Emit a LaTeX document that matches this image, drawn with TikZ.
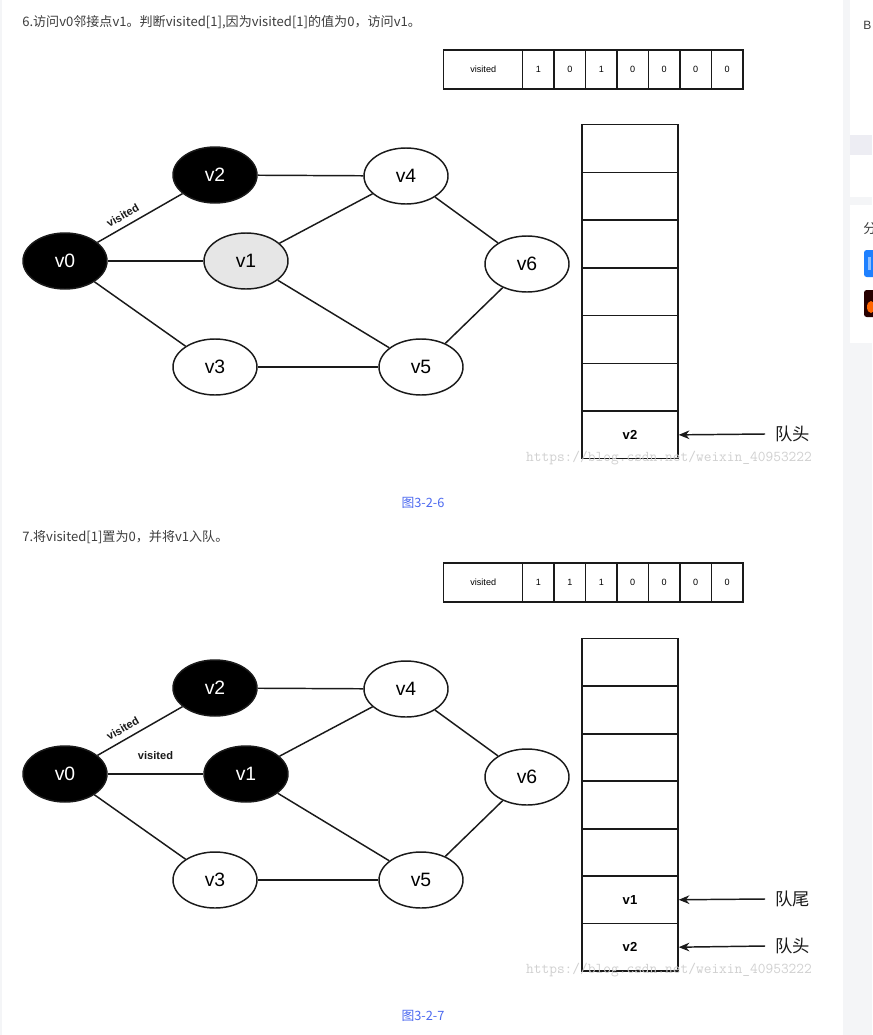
\documentclass[tikz,border=0pt]{standalone}
\usepackage{fontspec}
\setmainfont{Liberation Sans}
\newfontfamily\cjk{Noto Sans CJK SC}
\usetikzlibrary{arrows.meta,shapes.geometric}

\definecolor{txt}{HTML}{3D3D3D}
\definecolor{cap}{HTML}{4D6AF0}
\definecolor{wm}{HTML}{D0D0D0}
\definecolor{vlight}{HTML}{E6E6E6}
\definecolor{side}{HTML}{F4F5F7}
\definecolor{band}{HTML}{EDEDF3}
\definecolor{ink}{HTML}{1A1A1A}
\definecolor{iconblue}{HTML}{1E80FF}

\tikzset{
  vert/.style={ellipse, draw=ink, line width=1.1pt, minimum width=63pt, minimum height=42pt,
    inner sep=0pt, font=\fontsize{14.5}{16}\selectfont},
  blackv/.style={vert, fill=black, text=white},
  edge/.style={draw=ink, line width=1.1pt},
  lbl/.style={font=\bfseries\fontsize{8.3}{9}\selectfont, inner sep=1pt, text=ink},
  qcell/.style={rectangle, draw=ink, line width=1.1pt, minimum width=72pt, minimum height=35.8pt,
    inner sep=0pt, anchor=north, font=\bfseries\fontsize{9.8}{11}\selectfont},
  acell/.style={rectangle, draw=ink, line width=1.1pt, minimum width=23.6pt, minimum height=29.25pt,
    inner sep=0pt, anchor=west, font=\fontsize{6.8}{8}\selectfont},
  vcell/.style={acell, minimum width=59.25pt},
  qarrow/.style={draw=ink, line width=1.1pt, -{Stealth[length=8pt,width=6.5pt]}},
  qlabel/.style={anchor=west, inner sep=0pt, font=\cjk\fontsize{13}{15}\selectfont, text=ink},
  wmark/.style={font=\ttfamily\fontsize{11.25}{12}\selectfont, text=wm, inner sep=0pt},
  body/.style={anchor=west, inner sep=0pt, font=\cjk\fontsize{9.8}{11}\selectfont, text=txt},
  caption/.style={inner sep=0pt, font=\cjk\fontsize{9.6}{11}\selectfont, text=cap}
}

\begin{document}
\begin{tikzpicture}[x=0.75pt, y=-0.75pt]
\useasboundingbox (0,0) rectangle (872,1035);
\fill[white] (0,0) rectangle (872,1035);

% page margins and side column
\fill[side] (0,0) rectangle (2,1035);
\fill[side] (843,0) rectangle (872,1035);
\fill[white] (850,0) rectangle (872,135);
\fill[band] (850,135) rectangle (872,155);
\fill[white] (850,155) rectangle (872,197);
\fill[white] (850,205) rectangle (872,343);
\node[anchor=west, inner sep=0pt, font=\fontsize{9}{10}\selectfont, text=txt] (sb) at (863,25) {B};
\node[anchor=west, inner sep=0pt, font=\cjk\fontsize{10}{11}\selectfont, text=txt] (sf) at (863,229) {分};
\fill[iconblue, rounded corners=2pt] (864,250) rectangle (884,277);
\fill[white, opacity=0.5] (868,257) rectangle (870.5,270);
\fill[black!85!red, rounded corners=2pt] (864,290) rectangle (884,317);
\fill[orange!80!red] (871,307) ellipse (4 and 6);

% ---------- step 6 ----------
\node[body] (t6) at (22,22) {6.访问v0邻接点v1。判断visited[1],因为visited[1]的值为0，访问v1。};

\node[vcell] (av) at (443,69.5) {visited};
\foreach \v [count=\i] in {1,0,1,0,0,0,0} {
  \node[acell] (ac\i) at ({522+(\i-1)*31.43},69.5) {\v};
}

\node[blackv] (a0) at (65,261) {v0};
\node[blackv] (a2) at (215,175) {v2};
\node[vert, fill=vlight] (a1) at (246,261) {v1};
\node[vert] (a3) at (215,367) {v3};
\node[vert] (a4) at (406,176) {v4};
\node[vert] (a5) at (421,367) {v5};
\node[vert] (a6) at (527,264) {v6};
\draw[edge] (a0) -- node[lbl, sloped, above=3.5pt, pos=0.36] {visited} (a2);
\draw[edge] (a0) -- (a1);
\draw[edge] (a0) -- (a3);
\draw[edge] (a2) -- (a4);
\draw[edge] (a1) -- (a4);
\draw[edge] (a1) -- (a5);
\draw[edge] (a3) -- (a5);
\draw[edge] (a4) -- (a6);
\draw[edge] (a5) -- (a6);

\foreach \i in {1,...,6} {
  \node[qcell] (qa\i) at (630,{124+(\i-1)*47.71}) {};
}
\node[qcell] (qa7) at (630,{124+6*47.71}) {v2};
\node[qlabel] (ha) at (775,434) {队头};
\draw[qarrow] ([xshift=-7.5pt]ha.west) -- (qa7.east);
\node[wmark] (wa) at (669,458) {https://blog.csdn.net/weixin\_40953222};
\node[caption] (ca) at (423,503) {图3-2-6};

% ---------- step 7 ----------
\node[body] (t7) at (22,537) {7.将visited[1]置为0，并将v1入队。};

\node[vcell] (bv) at (443,582.5) {visited};
\foreach \v [count=\i] in {1,1,1,0,0,0,0} {
  \node[acell] (bc\i) at ({522+(\i-1)*31.43},582.5) {\v};
}

\node[blackv] (b0) at (65,774) {v0};
\node[blackv] (b2) at (215,688) {v2};
\node[blackv] (b1) at (246,774) {v1};
\node[vert] (b3) at (215,880) {v3};
\node[vert] (b4) at (406,689) {v4};
\node[vert] (b5) at (421,880) {v5};
\node[vert] (b6) at (527,777) {v6};
\draw[edge] (b0) -- node[lbl, sloped, above=3.5pt, pos=0.36] {visited} (b2);
\draw[edge] (b0) -- node[lbl, above=9pt] {visited} (b1);
\draw[edge] (b0) -- (b3);
\draw[edge] (b2) -- (b4);
\draw[edge] (b1) -- (b4);
\draw[edge] (b1) -- (b5);
\draw[edge] (b3) -- (b5);
\draw[edge] (b4) -- (b6);
\draw[edge] (b5) -- (b6);

\foreach \i in {1,...,5} {
  \node[qcell] (qb\i) at (630,{638+(\i-1)*47.43}) {};
}
\node[qcell] (qb6) at (630,{638+5*47.43}) {v1};
\node[qcell] (qb7) at (630,{638+6*47.43}) {v2};
\node[qlabel] (hb1) at (775,899) {队尾};
\node[qlabel] (hb2) at (775,946) {队头};
\draw[qarrow] ([xshift=-7.5pt]hb1.west) -- (qb6.east);
\draw[qarrow] ([xshift=-7.5pt]hb2.west) -- (qb7.east);
\node[wmark] (wb) at (669,970) {https://blog.csdn.net/weixin\_40953222};
\node[caption] (cb) at (423,1016) {图3-2-7};
\end{tikzpicture}
\end{document}
